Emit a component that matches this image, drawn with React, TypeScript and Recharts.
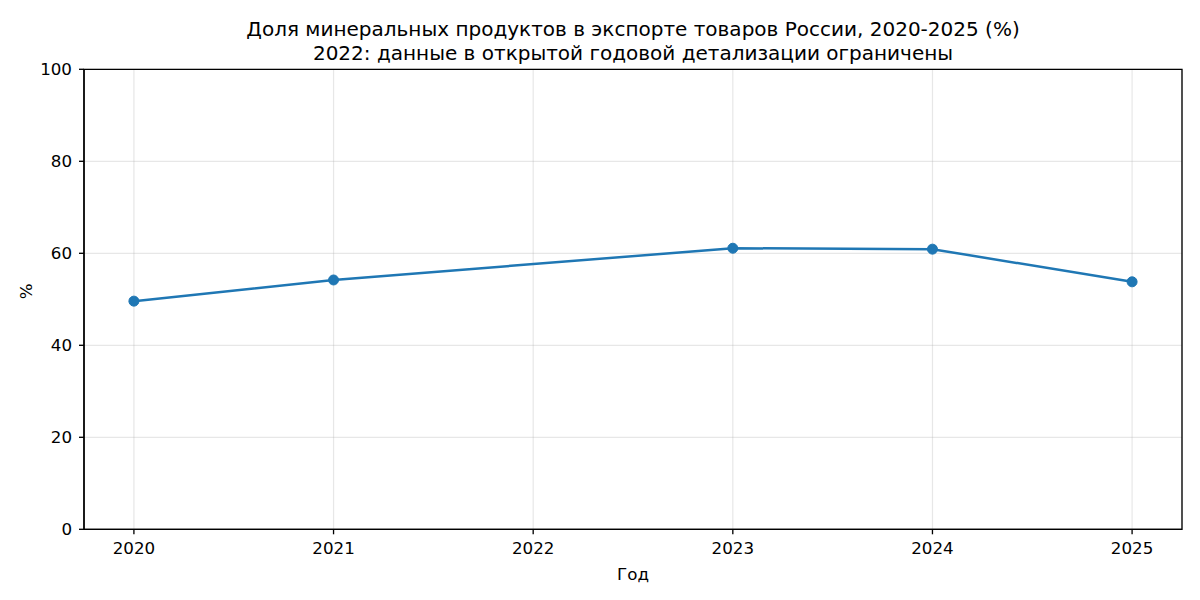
import React from 'react';
import { LineChart, Line, XAxis, YAxis, CartesianGrid, ReferenceArea } from 'recharts';

// years shown on the x axis; 2022 has no open data
const years = [2020, 2021, 2022, 2023, 2024, 2025];
const mineralShare: (number | null)[] = [49.6, 54.2, null, 61.1, 60.9, 53.8];
const yTicks = [0, 20, 40, 60, 80, 100];

const titleLines = [
  'Доля минеральных продуктов в экспорте товаров России, 2020-2025 (%)',
  '2022: данные в открытой годовой детализации ограничены',
];

const data = years.map((year, i) => ({ year, share: mineralShare[i] }));

const font = 'DejaVu Sans, sans-serif';
const tickStyle = { fontSize: 16.7, fill: '#000', fontFamily: font };

export default function App() {
  return (
    <div style={{ position: 'absolute', left: 0, top: 0, width: 1200, height: 600, background: '#fff', fontFamily: font }}>
      <div
        style={{
          position: 'absolute',
          left: 84,
          width: 1098,
          top: 18,
          textAlign: 'center',
          fontSize: 20,
          lineHeight: '23.5px',
          color: '#000',
        }}
      >
        {titleLines.map((t) => (
          <div key={t}>{t}</div>
        ))}
      </div>
      <LineChart
        width={1200}
        height={600}
        data={data}
        margin={{ top: 69.3, right: 18, bottom: 30.7, left: 0 }}
      >
        <CartesianGrid stroke="#b0b0b0" strokeOpacity={0.3} strokeWidth={1.2} />
        <XAxis
          dataKey="year"
          type="number"
          domain={[2019.75, 2025.25]}
          ticks={years}
          height={40}
          tickSize={5}
          tickMargin={8}
          tick={tickStyle}
          stroke="#000"
          strokeWidth={1.33}
          tickLine={{ stroke: '#000', strokeWidth: 1.33 }}
          label={{ value: 'Год', position: 'insideBottom', offset: -11, style: { ...tickStyle } }}
        />
        <YAxis
          type="number"
          domain={[0, 100]}
          ticks={yTicks}
          width={84}
          tickSize={5}
          tickMargin={7}
          tick={tickStyle}
          stroke="#000"
          strokeWidth={1.33}
          tickLine={{ stroke: '#000', strokeWidth: 1.33 }}
          label={{ value: '%', angle: -90, position: 'insideLeft', offset: 26, style: { ...tickStyle } }}
        />
        <ReferenceArea
          x1={2019.75}
          x2={2025.25}
          y1={0}
          y2={100}
          fill="none"
          fillOpacity={0}
          stroke="#000"
          strokeWidth={1.33}
          strokeOpacity={1}
        />
        <Line
          dataKey="share"
          type="linear"
          stroke="#1f77b4"
          strokeWidth={2.5}
          connectNulls
          dot={{ r: 5, fill: '#1f77b4', stroke: '#1f77b4', strokeWidth: 1 }}
          isAnimationActive={false}
        />
      </LineChart>
    </div>
  );
}
